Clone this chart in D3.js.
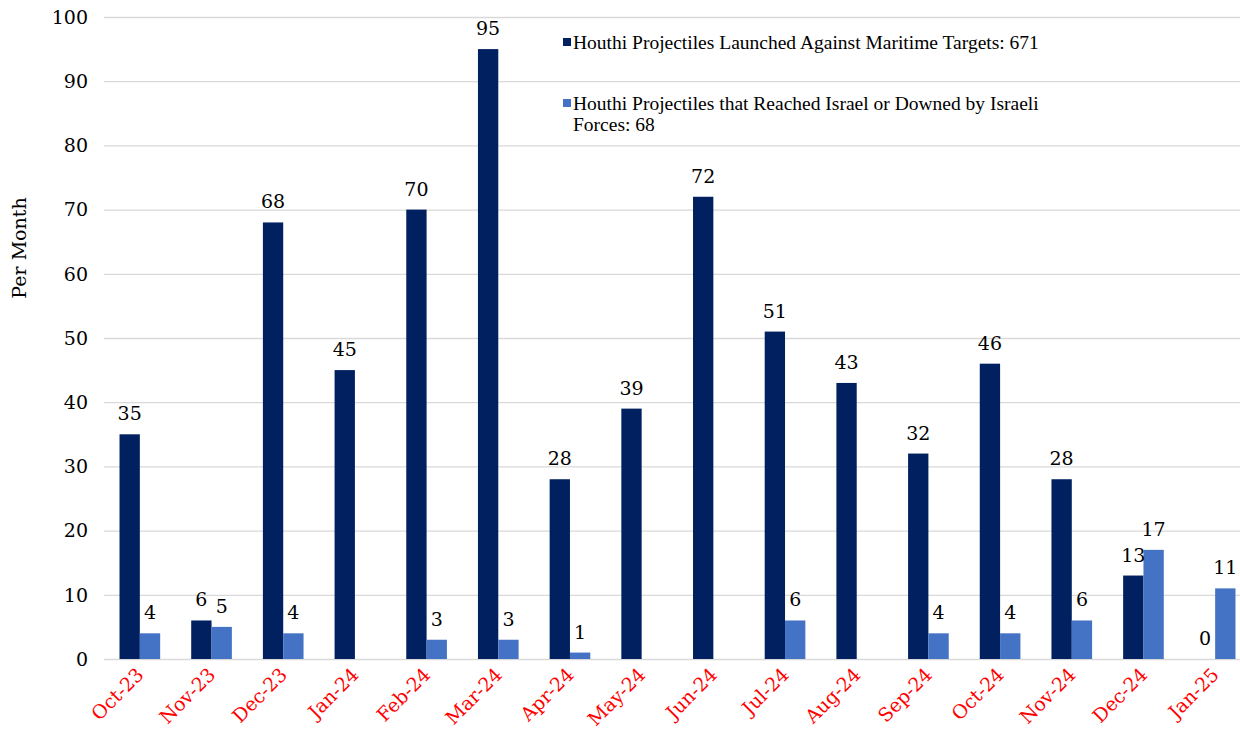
<!DOCTYPE html>
<html>
<head>
<meta charset="utf-8">
<script src="https://cdn.jsdelivr.net/npm/d3@7"></script>
<style>
  html, body { margin: 0; padding: 0; background: #fff; }
  svg { display: block; font-family: "DejaVu Serif", "Liberation Serif", serif; }
</style>
</head>
<body>
<div id="chart"></div>
<script>
const months = ['Oct-23', 'Nov-23', 'Dec-23', 'Jan-24', 'Feb-24', 'Mar-24', 'Apr-24', 'May-24',
  'Jun-24', 'Jul-24', 'Aug-24', 'Sep-24', 'Oct-24', 'Nov-24', 'Dec-24', 'Jan-25'];
const maritime = [35, 6, 68, 45, 70, 95, 28, 39, 72, 51, 43, 32, 46, 28, 13, 0];
const israel = [4, 5, 4, null, 3, 3, 1, null, null, 6, null, 4, 4, 6, 17, 11];
const seriesNames = [
  'Houthi Projectiles Launched Against Maritime Targets: 671',
  'Houthi Projectiles that Reached Israel or Downed by Israeli Forces: 68'
];
const yTicks = [0, 10, 20, 30, 40, 50, 60, 70, 80, 90, 100];

const W = 1240, H = 736;
const colors = ['#002060', '#4472c4'];

const svg = d3.select('#chart').append('svg')
  .attr('width', W).attr('height', H);

const x0 = d3.scaleBand()
  .domain(months)
  .range([104, 1251])
  .paddingInner(0.433)
  .paddingOuter(0.2165);

const x1 = d3.scaleBand()
  .domain([0, 1])
  .range([0, x0.bandwidth()]);

const y = d3.scaleLinear()
  .domain([0, 100])
  .range([659, 17]);

// gridlines
svg.append('g')
  .attr('transform', 'translate(104,0)')
  .call(d3.axisLeft(y).tickValues(yTicks).tickSize(-(1251 - 104)).tickFormat(''))
  .call(g => g.select('.domain').remove())
  .selectAll('line')
    .style('stroke', '#d9d9d9')
    .style('stroke-width', 1.3);

// y tick labels
svg.append('g')
  .selectAll('text')
  .data(yTicks)
  .join('text')
    .attr('x', 88)
    .attr('y', d => y(d))
    .attr('dy', '0.36em')
    .attr('text-anchor', 'end')
    .style('font-size', '19px')
    .style('fill', '#000')
    .text(d => d);

// y axis title
svg.append('text')
  .attr('transform', 'translate(26,248) rotate(-90)')
  .attr('text-anchor', 'middle')
  .style('font-size', '19px')
  .style('fill', '#000')
  .text('Per Month');

const data = months.map((m, i) => ({ m, vals: [maritime[i], israel[i]] }));

const groups = svg.append('g')
  .selectAll('g')
  .data(data)
  .join('g')
    .attr('transform', d => `translate(${x0(d.m)},0)`);

groups.selectAll('rect')
  .data(d => d.vals.map((v, k) => ({ v, k })).filter(e => e.v !== null))
  .join('rect')
    .attr('x', e => x1(e.k))
    .attr('width', x1.bandwidth())
    .attr('y', e => y(e.v))
    .attr('height', e => y(0) - y(e.v))
    .attr('fill', e => colors[e.k]);

groups.selectAll('text')
  .data(d => d.vals.map((v, k) => ({ v, k })).filter(e => e.v !== null))
  .join('text')
    .attr('x', e => x1(e.k) + x1.bandwidth() / 2)
    .attr('y', e => y(e.v) - 14)
    .attr('text-anchor', 'middle')
    .style('font-size', '19px')
    .style('fill', '#000')
    .text(e => e.v);

// x labels
svg.append('g')
  .selectAll('text')
  .data(months)
  .join('text')
    .attr('transform', d => `translate(${x0(d) + x0.bandwidth() / 2 + 5},676) rotate(-45)`)
    .attr('text-anchor', 'end')
    .style('font-size', '19px')
    .style('fill', '#ff0000')
    .text(d => d);

// legend
const legend = svg.append('g')
  .style('font-family', '"Liberation Serif", serif');
const legendRows = [
  { k: 0, y: 42, lines: [seriesNames[0]] },
  { k: 1, y: 103, lines: ['Houthi Projectiles that Reached Israel or Downed by Israeli', 'Forces: 68'] }
];
legendRows.forEach(r => {
  legend.append('rect')
    .attr('x', 563).attr('y', r.y - 4)
    .attr('width', 8).attr('height', 8)
    .attr('fill', colors[r.k]);
  const t = legend.append('text')
    .attr('x', 573).attr('y', r.y + 7)
    .style('font-size', '19.5px')
    .style('fill', '#000');
  r.lines.forEach((ln, i) => {
    t.append('tspan').attr('x', 573).attr('dy', i === 0 ? 0 : 21).text(ln);
  });
});
</script>
</body>
</html>
